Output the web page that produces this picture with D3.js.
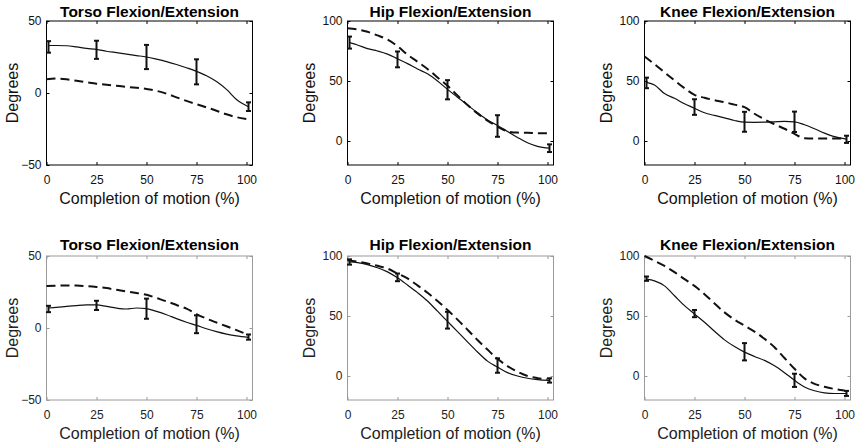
<!DOCTYPE html>
<html>
<head>
<meta charset="utf-8">
<script src="https://cdn.jsdelivr.net/npm/d3@7"></script>
<style>
  body { margin: 0; background: #fff; }
  text { font-family: "Liberation Sans", Arial, sans-serif; }
</style>
</head>
<body>
<script>
// sample positions (% of motion)
var solidX = [1, 5, 10, 15, 20, 25, 30, 35, 40, 45, 50, 55, 60, 65, 70, 75, 80, 85, 90, 95, 101];
var dashX  = [0, 5, 10, 15, 20, 25, 30, 35, 40, 45, 50, 55, 60, 65, 70, 75, 80, 85, 90, 95, 100];
var errX   = [1, 25, 50, 75, 101];
var xTicks = [0, 25, 50, 75, 100];

var titles = ["Torso Flexion/Extension", "Hip Flexion/Extension", "Knee Flexion/Extension",
              "Torso Flexion/Extension", "Hip Flexion/Extension", "Knee Flexion/Extension"];

// row 1
var torso1Solid = [33, 33, 32.8, 32, 31, 30.3, 29, 28, 27, 26, 25, 23.5, 21.8, 19.8, 17.5, 15, 12, 8, 2.5, -4.5, -9.5];
var torso1Dash  = [9.5, 10, 9.5, 8.5, 7.5, 6.5, 5.7, 5, 4.3, 3.6, 2.8, 1.5, -0.5, -3, -5.5, -7.8, -10, -12.3, -14.8, -16.8, -18];
var torso1Mean  = [32, 30, 25, 14.7, -9.5];
var torso1Err   = [4, 6.3, 8.4, 8.7, 3];

var hip1Solid = [82, 80, 77, 75, 72.4, 68.5, 64.5, 60, 56, 50, 43, 36.5, 30, 23.5, 17.5, 13, 8, 3, -1.5, -4.5, -6];
var hip1Dash  = [94, 93, 91, 88, 84.5, 79, 72, 66, 60, 53, 46, 38, 30, 23, 17, 12, 8, 7, 6.8, 6.5, 6.4];
var hip1Mean  = [82, 68, 42.7, 12.5, -6];
var hip1Err   = [5, 6.6, 8, 9, 3.2];

var knee1Solid = [48.9, 46.7, 39.5, 35.6, 31, 27.3, 23.5, 21.3, 19.3, 17.1, 15.7, 15.6, 15.7, 16, 16.3, 16, 13.5, 10.2, 6.6, 3.6, 1.5];
var knee1Dash  = [70.4, 64, 57.2, 50.5, 44, 38.5, 36, 34, 32.3, 30.3, 28.2, 22.7, 18, 14, 10.2, 6, 2.2, 2, 2, 2, 2];
var knee1Mean  = [48.4, 28.3, 16, 16, 1.4];
var knee1Err   = [4.4, 6.5, 8.3, 8.5, 3];

// row 2
var torso2Solid = [13.9, 14.3, 15, 15.6, 16, 16, 15, 13.8, 13.2, 13.9, 13.4, 11.5, 9.2, 6.5, 4, 1.8, -0.5, -2.5, -4.2, -5.5, -6.5];
var torso2Dash  = [29.1, 29.3, 29.6, 29.5, 29.1, 28.5, 27.7, 26.5, 25.4, 24.3, 23.1, 20.8, 18.5, 16, 13.4, 9.7, 6.5, 3.8, 1.2, -1.5, -4.2];
var torso2Mean  = [13.2, 15.7, 13.4, 2.6, -6.3];
var torso2Err   = [2.2, 3.2, 7, 6.2, 1.8];

var hip2Solid = [95, 94.5, 92.8, 90.2, 86.8, 81.8, 75.8, 69.5, 62.5, 54, 45.5, 37, 28.4, 20, 12.4, 7.4, 2.8, 0, -1.9, -3, -3.6];
var hip2Dash  = [96.4, 95.3, 93.7, 91.8, 89.5, 85.4, 81.3, 75.5, 69.4, 62.5, 55, 47, 38.6, 30, 22, 14.3, 8.3, 3.5, 0, -1.8, -2.8];
var hip2Mean  = [95, 82.2, 46.5, 8.7, -3.7];
var hip2Err   = [2.2, 3.2, 7, 6, 1.8];

var knee2Solid = [80.7, 79.3, 75.1, 66.9, 58.6, 51.7, 44.8, 37.3, 30.1, 24.5, 19.9, 16.3, 13, 8.5, 2.8, -3.6, -9.1, -12.3, -14.1, -14.6, -14.6];
var knee2Dash  = [100, 96, 91.7, 86.5, 80.7, 75.1, 68.2, 60.5, 53, 47, 42, 37, 31, 24, 15, 6, -2, -6.5, -9, -10.8, -12];
var knee2Mean  = [81.1, 52, 20.2, -3.6, -14.5];
var knee2Err   = [1.8, 3, 7.2, 5.5, 2.1];

var yDomains = [[-50, 50], [-20, 100], [-20, 100], [-50, 50], [-20, 100], [-20, 100]];
var yTicks = [[-50, 0, 50], [0, 50, 100], [0, 50, 100], [-50, 0, 50], [0, 50, 100], [0, 50, 100]];

var panels = [
  { solid: torso1Solid, dash: torso1Dash, mean: torso1Mean, err: torso1Err },
  { solid: hip1Solid, dash: hip1Dash, mean: hip1Mean, err: hip1Err },
  { solid: knee1Solid, dash: knee1Dash, mean: knee1Mean, err: knee1Err },
  { solid: torso2Solid, dash: torso2Dash, mean: torso2Mean, err: torso2Err },
  { solid: hip2Solid, dash: hip2Dash, mean: hip2Mean, err: hip2Err },
  { solid: knee2Solid, dash: knee2Dash, mean: knee2Mean, err: knee2Err }
];

var W = 856, H = 446;
var svg = d3.select("body").append("svg").attr("width", W).attr("height", H);

var lefts = [46.5, 347.5, 644.5];
var tops = [21, 256];
var pw = 206, ph = 144;

panels.forEach(function(p, i) {
  var col = i % 3, row = Math.floor(i / 3);
  var boxColor = row === 0 ? "#000" : "#9a9a9a";
  var ink = row === 0 ? "#111" : "#222";
  var g = svg.append("g").attr("transform", "translate(" + lefts[col] + "," + tops[row] + ")");

  var x = d3.scaleLinear().domain([0, 103]).range([0, pw]);
  var y = d3.scaleLinear().domain(yDomains[i]).range([ph, 0]);

  // axes with inward ticks
  function styleAxis(sel) {
    sel.select(".domain").remove();
    sel.selectAll(".tick line").attr("stroke", boxColor);
    sel.selectAll(".tick text").attr("fill", ink).attr("font-size", "12px")
      .attr("font-family", "'Liberation Sans', Arial, sans-serif");
  }
  g.append("g").attr("transform", "translate(0," + ph + ")")
    .call(d3.axisBottom(x).tickValues(xTicks).tickSize(-3).tickPadding(10)).call(styleAxis);
  g.append("g")
    .call(d3.axisTop(x).tickValues(xTicks).tickSize(-3).tickFormat("")).call(styleAxis);
  g.append("g")
    .call(d3.axisLeft(y).tickValues(yTicks[i]).tickSize(-3).tickPadding(5)).call(styleAxis);
  g.append("g").attr("transform", "translate(" + pw + ",0)")
    .call(d3.axisRight(y).tickValues(yTicks[i]).tickSize(-3).tickFormat("")).call(styleAxis);

  g.append("rect").attr("width", pw).attr("height", ph)
    .attr("fill", "none").attr("stroke", boxColor).attr("stroke-width", 1);

  var line = d3.line().curve(d3.curveMonotoneX)
    .x(function(d) { return x(d[0]); })
    .y(function(d) { return y(d[1]); });

  g.append("path").datum(d3.zip(dashX, p.dash)).attr("d", line)
    .attr("fill", "none").attr("stroke", "#111").attr("stroke-width", 2)
    .attr("stroke-dasharray", "9,5");

  g.append("path").datum(d3.zip(solidX, p.solid)).attr("d", line)
    .attr("fill", "none").attr("stroke", "#111").attr("stroke-width", 1.2);

  var eb = g.selectAll(".eb").data(d3.zip(errX, p.mean, p.err)).enter().append("g")
    .attr("stroke", "#111").attr("stroke-width", 2);
  eb.append("line")
    .attr("x1", function(d) { return x(d[0]); }).attr("x2", function(d) { return x(d[0]); })
    .attr("y1", function(d) { return y(d[1] + d[2]); }).attr("y2", function(d) { return y(d[1] - d[2]); });
  eb.append("line")
    .attr("x1", function(d) { return x(d[0]) - 2.5; }).attr("x2", function(d) { return x(d[0]) + 2.5; })
    .attr("y1", function(d) { return y(d[1] + d[2]); }).attr("y2", function(d) { return y(d[1] + d[2]); });
  eb.append("line")
    .attr("x1", function(d) { return x(d[0]) - 2.5; }).attr("x2", function(d) { return x(d[0]) + 2.5; })
    .attr("y1", function(d) { return y(d[1] - d[2]); }).attr("y2", function(d) { return y(d[1] - d[2]); });

  // title and labels
  g.append("text").attr("x", pw / 2).attr("y", row === 0 ? -4.5 : -6)
    .attr("text-anchor", "middle").attr("font-weight", "bold").attr("font-size", "15.5px")
    .attr("fill", "#000").text(titles[i]);
  g.append("text").attr("x", pw / 2).attr("y", ph + 39)
    .attr("text-anchor", "middle").attr("font-size", "16px").attr("fill", ink)
    .text("Completion of motion (%)");
  var off = yDomains[i][1] === 100 ? 32.5 : 28.5;
  g.append("text").attr("transform", "translate(" + (-off) + "," + (ph / 2) + ") rotate(-90)")
    .attr("text-anchor", "middle").attr("font-size", "16px").attr("fill", ink)
    .text("Degrees");
});
</script>
</body>
</html>
